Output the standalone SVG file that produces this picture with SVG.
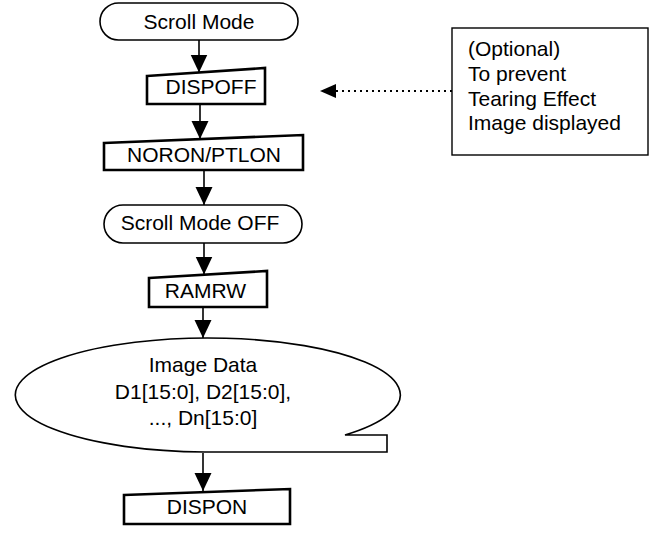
<svg xmlns="http://www.w3.org/2000/svg" width="652" height="534" viewBox="0 0 652 534">
<style>
text{font-family:"Liberation Sans",Arial,sans-serif;font-size:21px;fill:#000}
.c{text-anchor:middle}
.term{fill:#fff;stroke:#000;stroke-width:1.6}
.man{fill:#fff;stroke:#000;stroke-width:2.6;stroke-linejoin:miter}
.ln{stroke:#000;stroke-width:1.6;fill:none}
.dot{stroke:#000;stroke-width:1.8;stroke-dasharray:2 4;fill:none}
.box{fill:#fff;stroke:#000;stroke-width:1.4}
.data{fill:#fff;stroke:#000;stroke-width:1.6}
</style>
<defs>
<marker id="ah" markerUnits="userSpaceOnUse" markerWidth="18" markerHeight="18" refX="18" refY="8.5" orient="auto" viewBox="0 0 18 17">
<path d="M0 0L18 8.5L0 17Z" fill="#000"/>
</marker>
<marker id="ah2" markerUnits="userSpaceOnUse" markerWidth="16" markerHeight="15" refX="16" refY="7" orient="auto" viewBox="0 0 16 14">
<path d="M0 0L16 7L0 14Z" fill="#000"/>
</marker>
</defs>
<g id="connectors">
<line class="ln" x1="199" y1="40" x2="199" y2="72.5" marker-end="url(#ah)"/>
<line class="ln" x1="200" y1="104" x2="200" y2="139" marker-end="url(#ah)"/>
<line class="ln" x1="204" y1="170" x2="204" y2="205" marker-end="url(#ah)"/>
<line class="ln" x1="204" y1="243" x2="204" y2="274.5" marker-end="url(#ah)"/>
<line class="ln" x1="203" y1="307" x2="203" y2="338" marker-end="url(#ah)"/>
<line class="ln" x1="203" y1="453" x2="203" y2="491" marker-end="url(#ah)"/>
<line class="dot" x1="452" y1="91" x2="320" y2="91" marker-end="url(#ah2)"/>
</g>
<g id="scroll-mode">
<rect class="term" x="100" y="3" width="198" height="37" rx="18.5"/>
<text class="c" x="199" y="29">Scroll Mode</text>
</g>
<g id="dispoff">
<path class="man" d="M147 76L265 68L265 104L147 104Z"/>
<text class="c" x="211" y="94">DISPOFF</text>
</g>
<g id="noron-ptlon">
<path class="man" d="M104 143L303 135L303 170L104 170Z"/>
<text class="c" x="204" y="162">NORON/PTLON</text>
</g>
<g id="scroll-mode-off">
<rect class="term" x="104" y="205" width="198" height="38" rx="19"/>
<text class="c" x="200" y="230">Scroll Mode OFF</text>
</g>
<g id="ramrw">
<path class="man" d="M149 278L267 271L267 307L149 307Z"/>
<text class="c" x="205.5" y="298">RAMRW</text>
</g>
<g id="image-data">
<path class="data" d="M345 435A192.5 57 0 1 0 204.5 452L387 452L387 435Z"/>
<text class="c" x="203" y="372">Image Data</text>
<text class="c" x="203" y="399">D1[15:0], D2[15:0],</text>
<text class="c" x="203" y="425">..., Dn[15:0]</text>
</g>
<g id="dispon">
<path class="man" d="M124 495L290 489L290 524L124 524Z"/>
<text class="c" x="207" y="514">DISPON</text>
</g>
<g id="note">
<rect class="box" x="452" y="28" width="196" height="127"/>
<text x="468" y="56">(Optional)</text>
<text x="468" y="81">To prevent</text>
<text x="468" y="105.5">Tearing Effect</text>
<text x="468" y="130">Image displayed</text>
</g>
</svg>
